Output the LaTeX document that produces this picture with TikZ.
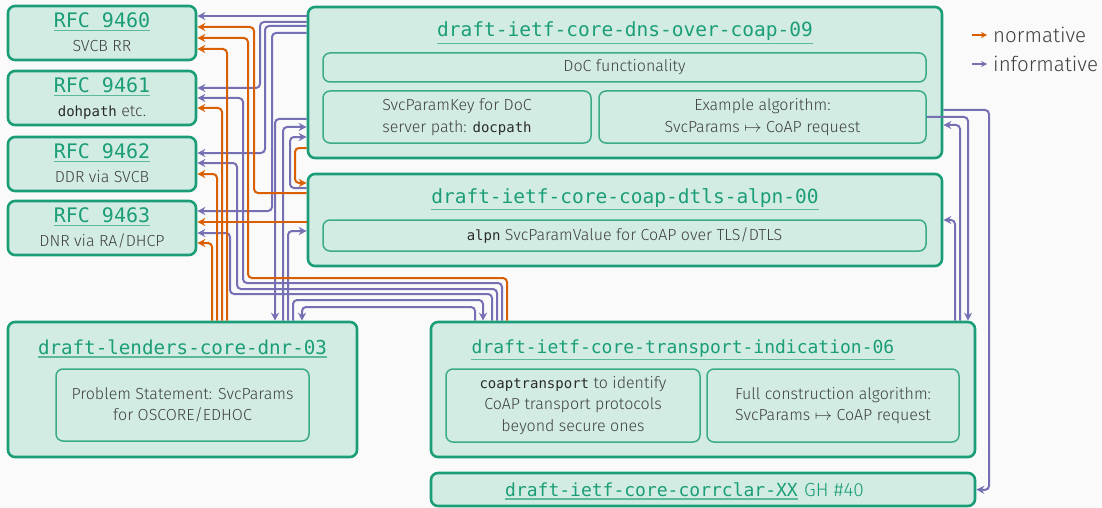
\documentclass[tikz,border=0pt]{standalone}
\usepackage{fontspec}
\IfFontExistsTF{Fira Sans Light}{\setmainfont{Fira Sans Light}}{\setmainfont{Fira Sans}}
\setmonofont{DejaVu Sans Mono}
\usetikzlibrary{arrows.meta}
\definecolor{dkgreen}{HTML}{1B9E77}
\definecolor{dkorange}{HTML}{D95F02}
\definecolor{dkpurple}{HTML}{7570B3}
\definecolor{boxfill}{HTML}{D2ECE4}
\definecolor{subline}{HTML}{3AAA88}
\definecolor{ulgreen}{HTML}{5DB99A}
\definecolor{txtgrey}{HTML}{404040}
\definecolor{codegrey}{HTML}{2A2A2A}
\definecolor{bgcol}{HTML}{FAFAFA}
\newcommand\code[1]{{\fontsize{14}{21}\selectfont\ttfamily\color{codegrey}#1}}
\begin{document}
\begin{tikzpicture}[x=1pt,y=-1pt,
  box/.style={draw=dkgreen,fill=boxfill,line width=2.6pt,rounded corners=7pt},
  sub/.style={draw=subline,fill=boxfill,line width=1.5pt,rounded corners=7pt,align=center,
    text=txtgrey,font=\fontsize{16}{21.5}\selectfont,inner sep=0pt},
  ttl/.style={font=\fontsize{#1}{#1}\selectfont\ttfamily,text=dkgreen,inner sep=0pt,anchor=base},
  txt/.style={font=\fontsize{16}{21}\selectfont,text=txtgrey,inner sep=0pt,anchor=base},
  ul/.style={draw=ulgreen,line width=1.4pt},
  inf/.style={draw=dkpurple,line width=2pt,rounded corners=4pt,-{Stealth[length=8pt,width=8pt]}},
  nor/.style={draw=dkorange,line width=2pt,rounded corners=4pt,-{Stealth[length=8pt,width=8pt]}},
]
\fill[bgcol] (0,0) rectangle (1102,508);
\useasboundingbox (0,0) rectangle (1102,508);

\node[box,minimum width=188pt,minimum height=54pt] (r60) at (102,33) {};
\node[box,minimum width=188pt,minimum height=54pt] (r61) at (102,98) {};
\node[box,minimum width=188pt,minimum height=54pt] (r62) at (102,164) {};
\node[box,minimum width=188pt,minimum height=54pt] (r63) at (102,228) {};
\node[ttl=20] (t60) at (102,27.5) {RFC 9460};
\node[txt] (s60) at (102,51.5) {SVCB RR};
\node[ttl=20] (t61) at (102,92.5) {RFC 9461};
\node[txt] (s61) at (102,116.5) {\code{dohpath} etc.};
\node[ttl=20] (t62) at (102,158.5) {RFC 9462};
\node[txt] (s62) at (102,182.5) {DDR via SVCB};
\node[ttl=20] (t63) at (102,222.5) {RFC 9463};
\node[txt] (s63) at (102,246.5) {DNR via RA/DHCP};

\node[box,minimum width=634pt,minimum height=151pt] (doc) at (625,82.5) {};
\node[ttl=19.5] (tdoc) at (625,37) {draft-ietf-core-dns-over-coap-09};
\node[sub,minimum width=603pt,minimum height=29pt] (docfun) at (624.5,67.5) {DoC functionality};
\node[sub,minimum width=268pt,minimum height=52pt] (docpath) at (457,117) {SvcParamKey for DoC\\server path: \code{docpath}};
\node[sub,minimum width=327pt,minimum height=52pt] (docalg) at (762.5,117) {Example algorithm:\\SvcParams $\mapsto$ CoAP request};

\node[box,minimum width=634pt,minimum height=92pt] (alpn) at (625,220) {};
\node[ttl=19.5] (talpn) at (625,203) {draft-ietf-core-coap-dtls-alpn-00};
\node[sub,minimum width=603pt,minimum height=31pt] (alpnval) at (624.5,235.5) {\code{alpn} SvcParamValue for CoAP over TLS/DTLS};

\node[box,minimum width=349pt,minimum height=135pt] (dnr) at (182.5,389.5) {};
\node[ttl=19.2] (tdnr) at (182.5,354) {draft-lenders-core-dnr-03};
\node[sub,minimum width=253pt,minimum height=72pt] (dnrprob) at (182.5,405) {Problem Statement: SvcParams\\for OSCORE/EDHOC};

\node[box,minimum width=544pt,minimum height=135pt] (tri) at (703,389.5) {};
\node[ttl=18] (ttri) at (683,353) {draft-ietf-core-transport-indication-06};
\node[sub,minimum width=254pt,minimum height=73pt] (tricoap) at (573,405.5) {\code{coaptransport} to identify\\CoAP transport protocols\\beyond secure ones};
\node[sub,minimum width=252pt,minimum height=73pt] (trialg) at (833,405.5) {Full construction algorithm:\\SvcParams $\mapsto$ CoAP request};

\node[box,minimum width=544pt,minimum height=33pt] (corr) at (703,489.5) {};
\node[ttl=18,anchor=base west] (tcorr) at (505,496) {draft-ietf-core-corrclar-XX};
\node[anchor=base west,inner sep=0pt,text=dkgreen,font=\fontsize{19}{19}\selectfont] (gh) at ([xshift=6pt]tcorr.base east) {GH \#40};

\foreach \t in {t60,t61,t62,t63,tdoc,talpn,tdnr,ttri,tcorr}
  \draw[ul] ([yshift=-2.5pt]\t.south west) -- ([yshift=-2.5pt]\t.south east);

\node[anchor=west,inner xsep=6pt,text=txtgrey,font=\fontsize{20.5}{20.5}\selectfont] (lnor) at (987,35) {normative};
\node[anchor=west,inner xsep=6pt,text=txtgrey,font=\fontsize{20.5}{20.5}\selectfont] (linf) at (987,64) {informative};
\draw[nor,-{Stealth[length=6pt,width=6pt]}] ([xshift=-15pt]lnor.west) -- (lnor.west);
\draw[inf,-{Stealth[length=6pt,width=6pt]}] ([xshift=-15pt]linf.west) -- (linf.west);

\draw[inf] (doc.west|-0,16) -- (r60.east|-0,16);
\draw[inf] (doc.west|-0,22) -| (260,88) -- (r61.east|-0,88);
\draw[inf] (doc.west|-0,26) -| (265,153) -- (r62.east|-0,153);
\draw[inf] (doc.west|-0,33) -| (272,211) -- (r63.east|-0,211);
\draw[inf] (tri.north-|502,0) |- (243,283) |- (r61.east|-0,98);
\draw[inf] (tri.north-|497,0) |- (237,289) |- (r62.east|-0,163);
\draw[inf] (tri.north-|492,0) |- (230,294) |- (r63.east|-0,233);
\draw[inf] (doc.west|-0,119) -| (dnr.north-|275,0);
\draw[inf] (dnr.north-|283,0) |- (doc.west|-0,127);
\draw[inf] (alpn.west|-0,188) -| (290,137) -- (doc.west|-0,137);
\draw[inf] (dnr.north-|288,0) |- (alpn.west|-0,231);
\draw[inf] (dnr.north-|293,0) |- (483,300) -- (tri.north-|483,0);
\draw[inf] (tri.north-|475,0) |- (302,307) -- (dnr.north-|302,0);
\draw[inf] (docalg.east) -| (tri.north-|968,0);
\draw[inf] (tri.north-|960,0) |- (doc.east|-0,125);
\draw[inf] (tri.north-|955,0) |- (alpn.east);
\draw[inf] (doc.east|-0,110) -| (989,490) -- (corr.east);

\draw[nor] (alpn.west|-0,193) -| (254,27) -- (r60.east|-0,27);
\draw[nor] (tri.north-|507,0) |- (248,278) |- (r60.east|-0,38);
\draw[nor] (dnr.north-|227,0) |- (r60.east|-0,49);
\draw[nor] (dnr.north-|222,0) |- (r61.east|-0,108);
\draw[nor] (dnr.north-|217,0) |- (r62.east|-0,174);
\draw[nor] (dnr.north-|212,0) |- (r63.east|-0,243);
\draw[nor] (alpn.west|-0,222) -- (r63.east|-0,222);
\draw[nor] (doc.west|-0,148) -| (295,183) -- (alpn.west|-0,183);
\end{tikzpicture}
\end{document}
